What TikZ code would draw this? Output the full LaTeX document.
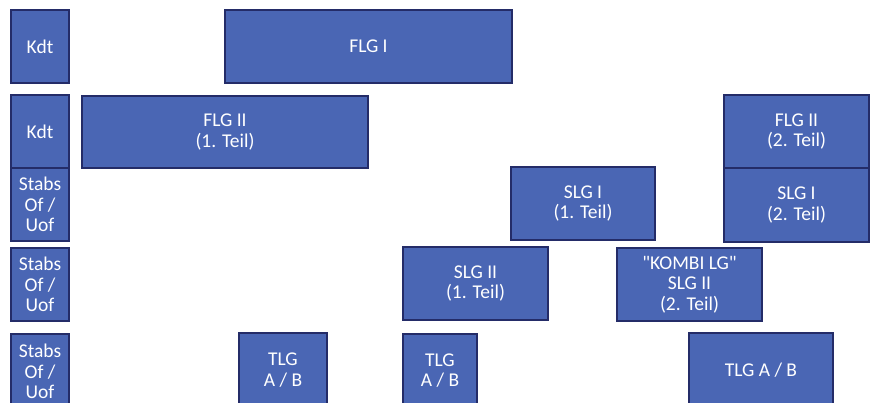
\documentclass[tikz,border=0pt]{standalone}
\usepackage{fontspec}
\setmainfont{Carlito}
\newfontfamily\plainfont{Carlito}[Ligatures=TeXOff]
\definecolor{boxfill}{RGB}{74,102,180}
\definecolor{boxline}{RGB}{36,44,104}
\tikzset{
  unit/.style={draw=boxline, line width=1.3pt, fill=boxfill, text=white,
    align=center, inner sep=0pt, font=\fontsize{19.5}{20.5}\selectfont}
}
\newcommand{\bx}[6]{%
  \node[unit, minimum width={(#4-#2)*1pt}, minimum height={(#5-#3)*1pt}]
    (#1) at ({(#2+#4)/2},{(#3+#5)/2}) {#6};}
\begin{document}
\begin{tikzpicture}[x=1pt,y=-1pt]
\useasboundingbox (0,0) rectangle (871,403);
\clip (0,0) rectangle (871,403);
\bx{kdtA}{11}{10}{69}{83}{Kdt}
\bx{kdtB}{11}{95}{69}{168}{Kdt}
\bx{stabsA}{11}{168}{69}{241}{Stabs\\Of /\\Uof}
\bx{stabsB}{11}{248}{69}{321}{Stabs\\Of /\\Uof}
\bx{stabsC}{11}{334}{69}{409}{Stabs\\Of /\\Uof}
\bx{flgI}{225}{10}{512}{83}{FLG I}
\bx{flgIIa}{82}{96}{368}{168}{FLG II\\(1. Teil)}
\bx{flgIIb}{724}{95}{869}{168}{FLG II\\(2. Teil)}
\bx{slgIa}{511}{167}{655}{240}{SLG I\\(1. Teil)}
\bx{slgIb}{724}{168}{869}{242}{SLG I\\(2. Teil)}
\bx{slgIIa}{403}{247}{548}{320}{SLG II\\(1. Teil)}
\bx{kombi}{617}{248}{762}{321}{{\plainfont "KOMBI LG"}\\SLG II\\(2. Teil)}
\bx{tlgA}{239}{333}{327}{407}{TLG\\A / B}
\bx{tlgB}{403}{334}{477}{407}{TLG\\A / B}
\bx{tlgC}{689}{333}{833}{407}{TLG A / B}
\end{tikzpicture}
\end{document}
